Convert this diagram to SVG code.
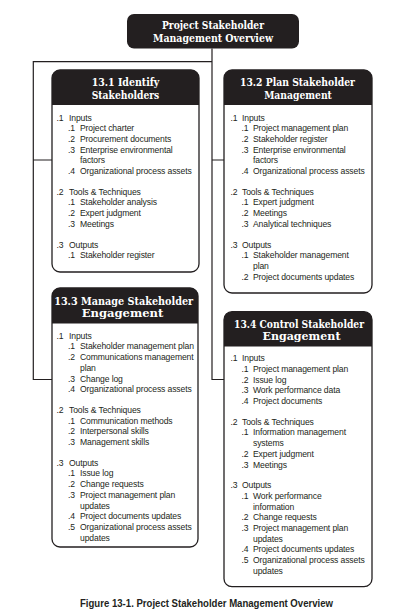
<svg xmlns="http://www.w3.org/2000/svg" width="406" height="614" viewBox="0 0 406 614">
<style>
.box{fill:#ffffff;stroke:#231f20;stroke-width:1.3}
.hdr{fill:#231f20}
.ht{font-family:"DejaVu Serif","Liberation Serif",serif;font-weight:bold;font-size:10.5px;fill:#ffffff;text-anchor:middle;font-stretch:condensed}
.bt{font-family:"Liberation Sans",Arial,sans-serif;font-size:8.6px;letter-spacing:-0.12px;fill:#231f20}
.conn{fill:none;stroke:#231f20;stroke-width:1.2}
.cap{font-family:"Liberation Sans",Arial,sans-serif;font-weight:bold;font-size:10.3px;fill:#231f20;text-anchor:middle}
</style>
<rect width="406" height="614" fill="#ffffff"/>
<g id="connectors">
<path class="conn" d="M212,48.5 V379.5 H224 M212,160 H224 M212,61.7 H33.3 V379.5 H52 M33.3,160 H52"/>
</g>
<g id="overview">
<rect x="127" y="14" width="172" height="34.5" rx="7" class="hdr"/>
<text class="ht" x="213" y="29" textLength="102" lengthAdjust="spacingAndGlyphs">Project Stakeholder</text>
<text class="ht" x="213" y="42" textLength="120" lengthAdjust="spacingAndGlyphs">Management Overview</text>
</g>
<g id="identify">
<rect x="52" y="70" width="147" height="202" rx="8" class="box"/>
<path class="hdr" d="M52,105 V78 A8,8 0 0 1 60,70 H191 A8,8 0 0 1 199,78 V105 Z"/>
<text class="ht" x="125.5" y="85.5" textLength="67.6" lengthAdjust="spacingAndGlyphs">13.1 Identify</text>
<text class="ht" x="125.5" y="98.5" textLength="67.6" lengthAdjust="spacingAndGlyphs">Stakeholders</text>
<g class="bt">
<text y="120.5"><tspan x="56.5">.1</tspan><tspan x="69">Inputs</tspan></text>
<text y="131.2"><tspan x="68">.1</tspan><tspan x="80">Project charter</tspan></text>
<text y="141.9"><tspan x="68">.2</tspan><tspan x="80">Procurement documents</tspan></text>
<text y="152.6"><tspan x="68">.3</tspan><tspan x="80">Enterprise environmental</tspan></text>
<text y="163.3"><tspan x="80">factors</tspan></text>
<text y="174"><tspan x="68">.4</tspan><tspan x="80">Organizational process assets</tspan></text>
<text y="194.7"><tspan x="56.5">.2</tspan><tspan x="69">Tools &amp; Techniques</tspan></text>
<text y="205.4"><tspan x="68">.1</tspan><tspan x="80">Stakeholder analysis</tspan></text>
<text y="216.1"><tspan x="68">.2</tspan><tspan x="80">Expert judgment</tspan></text>
<text y="226.8"><tspan x="68">.3</tspan><tspan x="80">Meetings</tspan></text>
<text y="247.5"><tspan x="56.5">.3</tspan><tspan x="69">Outputs</tspan></text>
<text y="258.2"><tspan x="68">.1</tspan><tspan x="80">Stakeholder register</tspan></text>
</g>
</g>
<g id="plan">
<rect x="224" y="70" width="148" height="223" rx="8" class="box"/>
<path class="hdr" d="M224,105 V78 A8,8 0 0 1 232,70 H364 A8,8 0 0 1 372,78 V105 Z"/>
<text class="ht" x="297.5" y="85.5" textLength="115" lengthAdjust="spacingAndGlyphs">13.2 Plan Stakeholder</text>
<text class="ht" x="298" y="98.5" textLength="67.7" lengthAdjust="spacingAndGlyphs">Management</text>
<g class="bt">
<text y="120.5"><tspan x="230.5">.1</tspan><tspan x="242">Inputs</tspan></text>
<text y="131.2"><tspan x="241.5">.1</tspan><tspan x="253">Project management plan</tspan></text>
<text y="141.9"><tspan x="241.5">.2</tspan><tspan x="253">Stakeholder register</tspan></text>
<text y="152.6"><tspan x="241.5">.3</tspan><tspan x="253">Enterprise environmental</tspan></text>
<text y="163.3"><tspan x="253">factors</tspan></text>
<text y="174"><tspan x="241.5">.4</tspan><tspan x="253">Organizational process assets</tspan></text>
<text y="194.7"><tspan x="230.5">.2</tspan><tspan x="242">Tools &amp; Techniques</tspan></text>
<text y="205.4"><tspan x="241.5">.1</tspan><tspan x="253">Expert judgment</tspan></text>
<text y="216.1"><tspan x="241.5">.2</tspan><tspan x="253">Meetings</tspan></text>
<text y="226.8"><tspan x="241.5">.3</tspan><tspan x="253">Analytical techniques</tspan></text>
<text y="247.5"><tspan x="230.5">.3</tspan><tspan x="242">Outputs</tspan></text>
<text y="258.2"><tspan x="241.5">.1</tspan><tspan x="253">Stakeholder management</tspan></text>
<text y="268.9"><tspan x="253">plan</tspan></text>
<text y="279.6"><tspan x="241.5">.2</tspan><tspan x="253">Project documents updates</tspan></text>
</g>
</g>
<g id="manage">
<rect x="52" y="288" width="146" height="259" rx="8" class="box"/>
<path class="hdr" d="M52,323.5 V296 A8,8 0 0 1 60,288 H190 A8,8 0 0 1 198,296 V323.5 Z"/>
<text class="ht" x="123.7" y="304.5" textLength="139" lengthAdjust="spacingAndGlyphs">13.3 Manage Stakeholder</text>
<text class="ht" x="122.5" y="317" textLength="81.7" lengthAdjust="spacingAndGlyphs">Engagement</text>
<g class="bt">
<text y="338.7"><tspan x="56.5">.1</tspan><tspan x="69">Inputs</tspan></text>
<text y="349.4"><tspan x="68">.1</tspan><tspan x="80">Stakeholder management plan</tspan></text>
<text y="360.1"><tspan x="68">.2</tspan><tspan x="80">Communications management</tspan></text>
<text y="370.8"><tspan x="80">plan</tspan></text>
<text y="381.5"><tspan x="68">.3</tspan><tspan x="80">Change log</tspan></text>
<text y="392.2"><tspan x="68">.4</tspan><tspan x="80">Organizational process assets</tspan></text>
<text y="412.9"><tspan x="56.5">.2</tspan><tspan x="69">Tools &amp; Techniques</tspan></text>
<text y="423.6"><tspan x="68">.1</tspan><tspan x="80">Communication methods</tspan></text>
<text y="434.3"><tspan x="68">.2</tspan><tspan x="80">Interpersonal skills</tspan></text>
<text y="445"><tspan x="68">.3</tspan><tspan x="80">Management skills</tspan></text>
<text y="465.7"><tspan x="56.5">.3</tspan><tspan x="69">Outputs</tspan></text>
<text y="476.4"><tspan x="68">.1</tspan><tspan x="80">Issue log</tspan></text>
<text y="487.1"><tspan x="68">.2</tspan><tspan x="80">Change requests</tspan></text>
<text y="497.8"><tspan x="68">.3</tspan><tspan x="80">Project management plan</tspan></text>
<text y="508.5"><tspan x="80">updates</tspan></text>
<text y="519.2"><tspan x="68">.4</tspan><tspan x="80">Project documents updates</tspan></text>
<text y="529.9"><tspan x="68">.5</tspan><tspan x="80">Organizational process assets</tspan></text>
<text y="540.6"><tspan x="80">updates</tspan></text>
</g>
</g>
<g id="control">
<rect x="224" y="311.7" width="148" height="275" rx="8" class="box"/>
<path class="hdr" d="M224,346.5 V319.7 A8,8 0 0 1 232,311.7 H364 A8,8 0 0 1 372,319.7 V346.5 Z"/>
<text class="ht" x="299" y="327.5" textLength="130" lengthAdjust="spacingAndGlyphs">13.4 Control Stakeholder</text>
<text class="ht" x="301.5" y="339.5" textLength="78" lengthAdjust="spacingAndGlyphs">Engagement</text>
<g class="bt">
<text y="361.2"><tspan x="230.5">.1</tspan><tspan x="242">Inputs</tspan></text>
<text y="371.9"><tspan x="241.5">.1</tspan><tspan x="253">Project management plan</tspan></text>
<text y="382.6"><tspan x="241.5">.2</tspan><tspan x="253">Issue log</tspan></text>
<text y="393.3"><tspan x="241.5">.3</tspan><tspan x="253">Work performance data</tspan></text>
<text y="404"><tspan x="241.5">.4</tspan><tspan x="253">Project documents</tspan></text>
<text y="424.7"><tspan x="230.5">.2</tspan><tspan x="242">Tools &amp; Techniques</tspan></text>
<text y="435.4"><tspan x="241.5">.1</tspan><tspan x="253">Information management</tspan></text>
<text y="446.1"><tspan x="253">systems</tspan></text>
<text y="456.8"><tspan x="241.5">.2</tspan><tspan x="253">Expert judgment</tspan></text>
<text y="467.5"><tspan x="241.5">.3</tspan><tspan x="253">Meetings</tspan></text>
<text y="488.2"><tspan x="230.5">.3</tspan><tspan x="242">Outputs</tspan></text>
<text y="498.9"><tspan x="241.5">.1</tspan><tspan x="253">Work performance</tspan></text>
<text y="509.6"><tspan x="253">information</tspan></text>
<text y="520.3"><tspan x="241.5">.2</tspan><tspan x="253">Change requests</tspan></text>
<text y="531"><tspan x="241.5">.3</tspan><tspan x="253">Project management plan</tspan></text>
<text y="541.7"><tspan x="253">updates</tspan></text>
<text y="552.4"><tspan x="241.5">.4</tspan><tspan x="253">Project documents updates</tspan></text>
<text y="563.1"><tspan x="241.5">.5</tspan><tspan x="253">Organizational process assets</tspan></text>
<text y="573.8"><tspan x="253">updates</tspan></text>
</g>
</g>
<text class="cap" x="206.5" y="607" textLength="253" lengthAdjust="spacingAndGlyphs">Figure 13-1. Project Stakeholder Management Overview</text>
</svg>
